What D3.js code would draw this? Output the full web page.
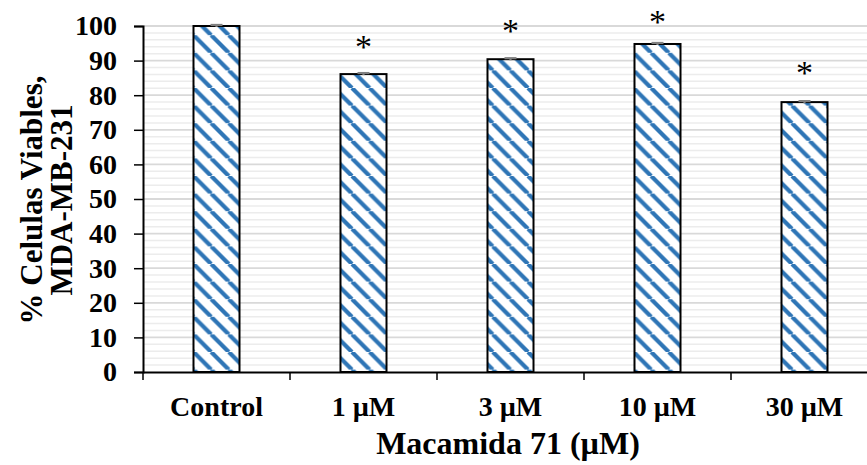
<!DOCTYPE html>
<html><head><meta charset="utf-8">
<script src="https://cdn.jsdelivr.net/npm/d3@7"></script>
<style>html,body{margin:0;padding:0;background:#fff;overflow:hidden}</style>
</head><body>
<svg id="chart" width="867" height="465"></svg>
<script>
(function(){
const categories = ["Control", "1 µM", "3 µM", "10 µM", "30 µM"];
const values = [100, 86.1, 90.4, 94.8, 78.0];
const errors = [0.3, 0.3, 0.3, 0.3, 0.3];
const significant = [false, true, true, true, true];
const starLevels = [null, 95.5, 100.0, 102.5, 87.8];
const yTicks = [0, 10, 20, 30, 40, 50, 60, 70, 80, 90, 100];
const minorTicks = d3.range(0, 101, 2);
const yTitleLines = ["% Celulas Viables,", "MDA-MB-231"];
const xTitle = "Macamida 71 (µM)";

const svg = d3.select("#chart");
const W = 867, H = 465;
const mLeft = 143, mRight = 878, mTop = 26, mBottom = 372;
const font = "'Liberation Serif','Times New Roman',serif";

const x = d3.scaleBand().domain(categories).range([mLeft, mRight]).padding(0);
const y = d3.scaleLinear().domain([0, 100]).range([mBottom, mTop]);
const barW = x.bandwidth() * 0.313;

const defs = svg.append("defs");
const P = 17.6;
const pat = defs.append("pattern").attr("id", "hatch").attr("patternUnits", "userSpaceOnUse")
  .attr("width", P).attr("height", P);
pat.append("rect").attr("width", P).attr("height", P).attr("fill", "#fff");
[-P, 0, P].forEach(dx => {
  pat.append("line").attr("x1", dx).attr("y1", 0).attr("x2", dx + P).attr("y2", P)
    .attr("stroke", "#2e75b6").attr("stroke-width", 4.2);
});
defs.append("clipPath").attr("id", "clip").append("rect").attr("x", 0).attr("y", 0).attr("width", W).attr("height", H);

const g = svg.append("g").attr("clip-path", "url(#clip)");

g.selectAll(".minor").data(minorTicks.filter(d => d % 10 !== 0)).enter().append("line")
  .attr("x1", mLeft).attr("x2", mRight).attr("y1", d => y(d)).attr("y2", d => y(d))
  .attr("stroke", "#ececec").attr("stroke-width", 1.5);
g.selectAll(".major").data(yTicks.filter(d => d > 0)).enter().append("line")
  .attr("x1", mLeft).attr("x2", mRight).attr("y1", d => y(d)).attr("y2", d => y(d))
  .attr("stroke", "#d9d9d9").attr("stroke-width", 1.8);

g.selectAll(".bar").data(categories).enter().append("rect")
  .attr("x", d => x(d) + x.bandwidth() / 2 - barW / 2)
  .attr("width", barW)
  .attr("y", (d, i) => y(values[i]))
  .attr("height", (d, i) => y(0) - y(values[i]))
  .attr("fill", "url(#hatch)").attr("stroke", "#000").attr("stroke-width", 2);

categories.forEach((c, i) => {
  const cx = x(c) + x.bandwidth() / 2;
  const eg = g.append("g").attr("stroke", "#7f7f7f").attr("stroke-width", 2.2);
  eg.append("line").attr("x1", cx).attr("x2", cx).attr("y1", y(values[i] + errors[i])).attr("y2", y(values[i] - errors[i]));
  eg.append("line").attr("x1", cx - 6).attr("x2", cx + 6).attr("y1", y(values[i] + errors[i])).attr("y2", y(values[i] + errors[i]));
});

categories.forEach((c, i) => {
  if (!significant[i]) return;
  g.append("text").attr("x", x(c) + x.bandwidth() / 2).attr("y", y(starLevels[i]) + 16)
    .attr("text-anchor", "middle").attr("font-family", font).attr("font-size", 34)
    .attr("fill", "#000").text("*");
});

const yAxis = g.append("g").attr("transform", `translate(${mLeft},0)`)
  .call(d3.axisLeft(y).tickValues(yTicks).tickSize(9).tickPadding(17).tickFormat(d3.format("d")));
yAxis.select(".domain").attr("stroke", "#000").attr("stroke-width", 2);
yAxis.selectAll(".tick line").attr("stroke", "#000").attr("stroke-width", 1.5);
yAxis.selectAll(".tick text").attr("font-family", font).attr("font-weight", "bold")
  .attr("font-size", 28).attr("fill", "#000");

const xAxis = g.append("g").attr("transform", `translate(0,${mBottom})`)
  .call(d3.axisBottom(x).tickSize(0).tickPadding(24));
xAxis.select(".domain").attr("stroke", "#000").attr("stroke-width", 2);
xAxis.selectAll(".tick text").attr("font-family", font).attr("font-weight", "bold")
  .attr("font-size", 28).attr("fill", "#000");
const bounds = categories.map(c => x(c)).concat([x(categories[categories.length - 1]) + x.bandwidth()]);
xAxis.selectAll(".bt").data(bounds).enter().append("line")
  .attr("x1", d => d).attr("x2", d => d).attr("y1", 0).attr("y2", 8)
  .attr("stroke", "#000").attr("stroke-width", 1.5);

svg.append("text").attr("x", 508).attr("y", 454).attr("text-anchor", "middle")
  .attr("font-family", font).attr("font-weight", "bold").attr("font-size", 32).text(xTitle);
yTitleLines.forEach((t, i) => {
  svg.append("text").attr("transform", `translate(${42 + i * 30},200) rotate(-90)`)
    .attr("text-anchor", "middle").attr("font-family", font).attr("font-weight", "bold")
    .attr("font-size", 31).text(t);
});
})();
</script>
</body></html>
